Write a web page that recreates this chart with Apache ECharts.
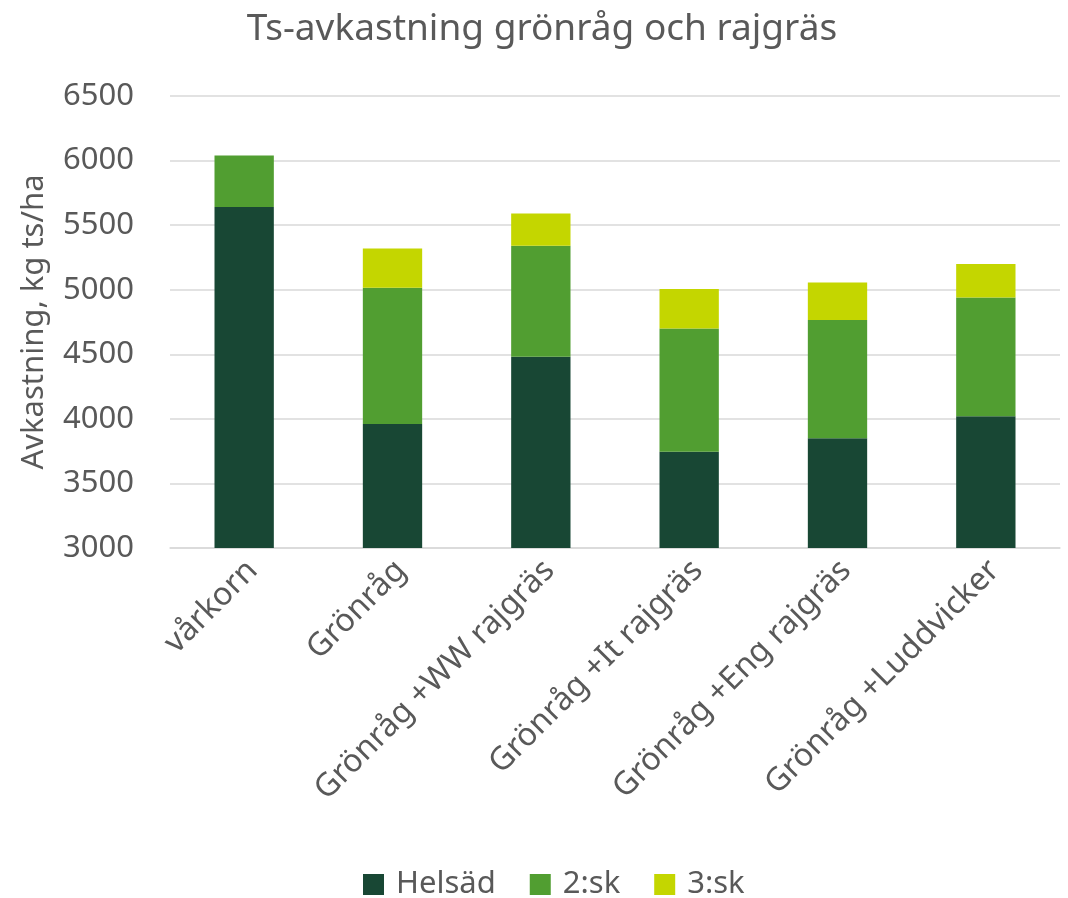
<!DOCTYPE html>
<html>
<head>
<meta charset="utf-8">
<script src="https://cdn.jsdelivr.net/npm/echarts@6/dist/echarts.min.js"></script>
<style>
  html, body { margin: 0; padding: 0; background: #fff; }
  #chart { width: 1068px; height: 898px; }
</style>
</head>
<body>
<div id="chart"></div>
<script>
// kategorier och värden (kg ts/ha), staplade
const categories = ['vårkorn', 'Grönråg', 'Grönråg +WW rajgräs', 'Grönråg +It rajgräs', 'Grönråg +Eng rajgräs', 'Grönråg +Luddvicker'];
const helsad = [5640, 3960, 4480, 3745, 3850, 4020];
const sk2 = [400, 1055, 860, 955, 915, 920];
const sk3 = [0, 305, 250, 305, 290, 260];
const seriesNames = ['Helsäd', '2:sk', '3:sk'];
const colors = ['#184734', '#519e31', '#c4d600'];

const font = '"Noto Sans", sans-serif';
const textColor = '#595959';

const myChart = echarts.init(document.getElementById('chart'));

const series = [helsad, sk2, sk3].map((d, i) => ({
  name: seriesNames[i],
  type: 'bar',
  stack: 'total',
  barWidth: '40%',
  data: d,
  itemStyle: { color: colors[i] }
}));

myChart.setOption({
  animation: false,
  textStyle: { fontFamily: font },
  title: {
    text: 'Ts-avkastning grönråg och rajgräs',
    left: 537,
    textAlign: 'center',
    top: 6,
    textStyle: { color: textColor, fontSize: 37, fontWeight: 'normal', fontFamily: font }
  },
  legend: {
    top: 864,
    left: 358,
    itemWidth: 21,
    itemHeight: 21,
    itemGap: 34,
    icon: 'rect',
    textStyle: { color: textColor, fontSize: 31, fontFamily: font, padding: [0, 0, 0, 7] }
  },
  grid: {
    left: 170,
    right: 8,
    top: 96,
    bottom: 350
  },
  xAxis: {
    type: 'category',
    data: categories,
    axisLine: { lineStyle: { color: '#d9d9d9', width: 1.5 } },
    axisTick: { show: false },
    axisLabel: {
      rotate: 45,
      color: textColor,
      fontSize: 32,
      fontFamily: font,
      margin: 26,
      padding: [0, -12, 0, 0],
      interval: 0
    }
  },
  yAxis: {
    type: 'value',
    min: 3000,
    max: 6500,
    interval: 500,
    name: 'Avkastning, kg ts/ha',
    nameLocation: 'middle',
    nameGap: 120,
    nameTextStyle: { color: textColor, fontSize: 31, fontFamily: font },
    axisLine: { show: false },
    axisTick: { show: false },
    axisLabel: {
      color: textColor,
      fontSize: 31,
      fontFamily: font,
      margin: 36,
      formatter: v => String(v)
    },
    splitLine: { lineStyle: { color: '#d9d9d9', width: 1.5 } }
  },
  series: series
});
</script>
</body>
</html>
